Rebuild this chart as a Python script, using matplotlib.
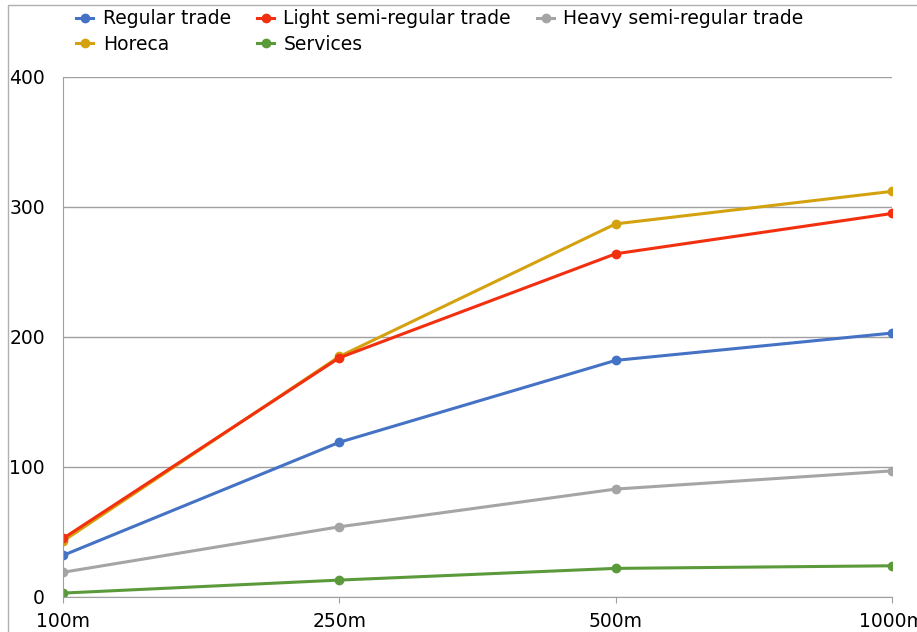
import matplotlib.pyplot as plt
from matplotlib.patches import Rectangle

# data
distances = ["100m", "250m", "500m", "1000m"]
regular = [32, 119, 182, 203]
light = [45, 184, 264, 295]
heavy = [19, 54, 83, 97]
horeca = [43, 185, 287, 312]
services = [3, 13, 22, 24]

fig = plt.figure(figsize=(9.17, 6.32), dpi=100)
ax = fig.add_axes([0.0687, 0.0554, 0.904, 0.8228])

x = range(len(distances))
lines = {}
lines["Regular trade"] = ax.plot(x, regular, '-o', color="#4472C4", lw=2.2, ms=6)[0]
lines["Light semi-regular trade"] = ax.plot(x, light, '-o', color="#F2300F", lw=2.2, ms=6)[0]
lines["Heavy semi-regular trade"] = ax.plot(x, heavy, '-o', color="#A5A5A5", lw=2.2, ms=6)[0]
lines["Horeca"] = ax.plot(x, horeca, '-o', color="#D4A20E", lw=2.2, ms=6, zorder=1.9)[0]
lines["Services"] = ax.plot(x, services, '-o', color="#5B9A3A", lw=2.2, ms=6)[0]

ax.set_xlim(0, 3)
ax.set_ylim(0, 400)
ax.set_yticks([0, 100, 200, 300, 400])
ax.set_xticks(list(x))
ax.set_xticklabels(distances)
ax.grid(axis='y', color="#A0A0A0", lw=1)
ax.set_axisbelow(True)
for s in ["top", "right"]:
    ax.spines[s].set_visible(False)
ax.spines["left"].set_color("#A0A0A0")
ax.spines["bottom"].set_color("#A0A0A0")
ax.tick_params(axis='y', length=0, labelsize=13.5, pad=13)
ax.tick_params(axis='x', length=4, color="#A0A0A0", labelsize=13.5, pad=7)

order = ["Regular trade", "Horeca", "Light semi-regular trade", "Services", "Heavy semi-regular trade"]
fig.legend([lines[k] for k in order], order, ncol=3, loc="upper left",
           bbox_to_anchor=(0.065, 1.012), frameon=False, fontsize=13.5,
           handlelength=0.9, handletextpad=0.5, columnspacing=1.4,
           labelspacing=0.35)

# outer frame of the original chart box
fig.patches.append(Rectangle((0.009, -0.1), 1.2, 1.092, transform=fig.transFigure,
                             fill=False, edgecolor="#B0B0B0", lw=1))

fig.savefig("out.png", dpi=100)
